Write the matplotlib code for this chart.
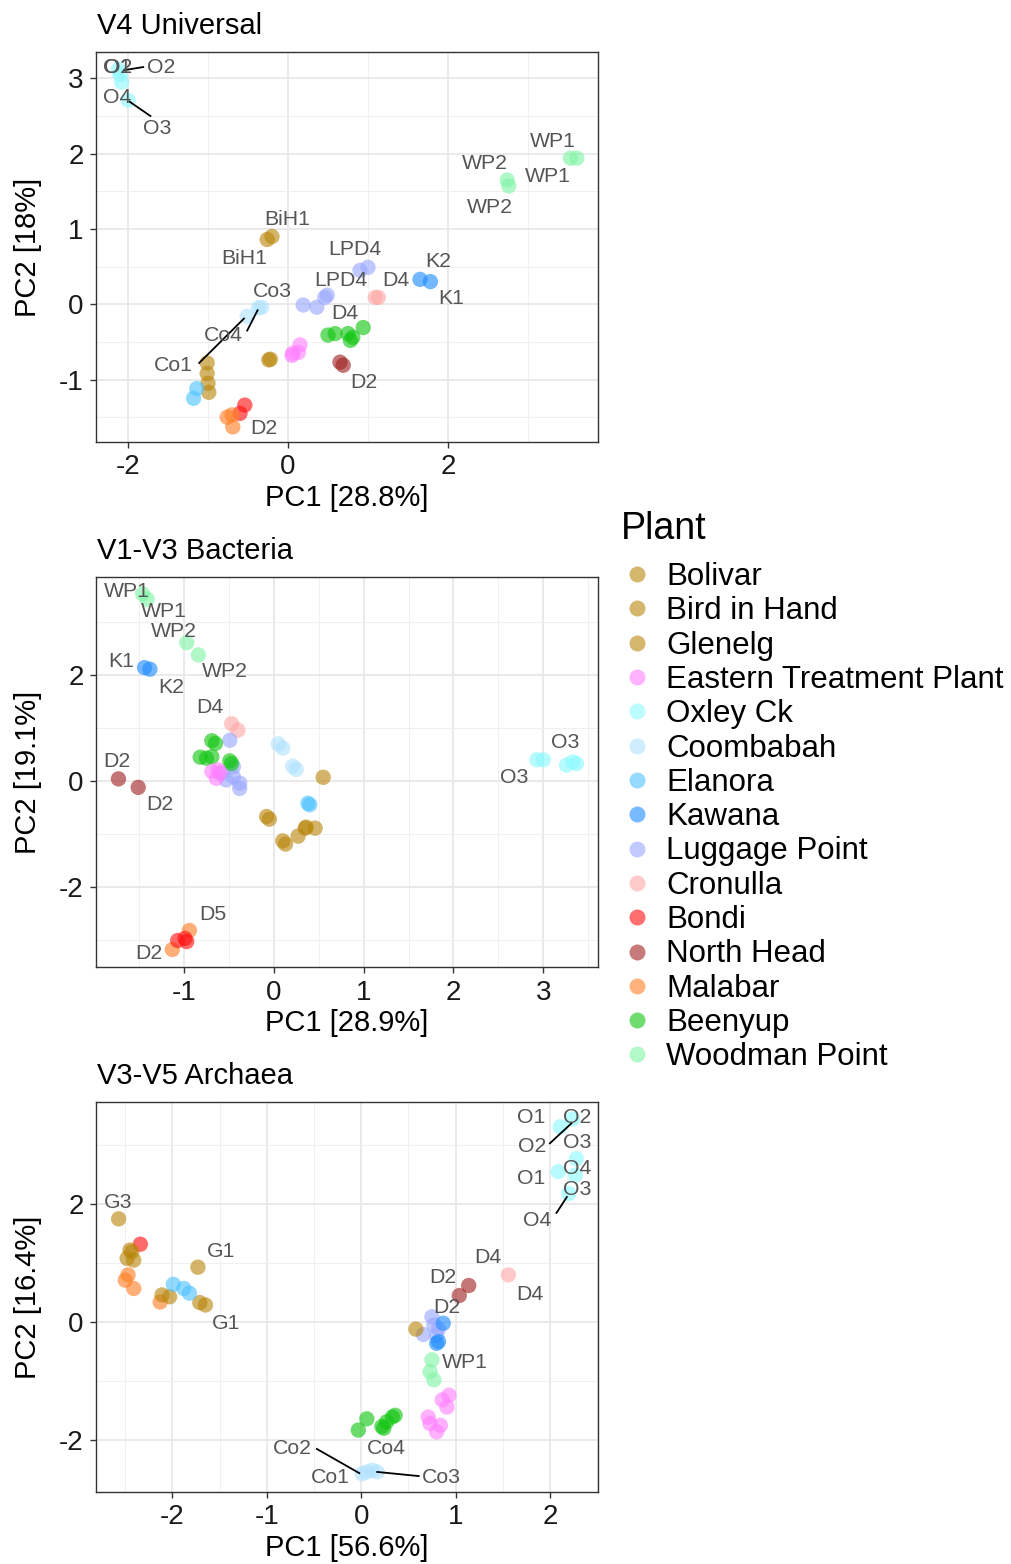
import matplotlib.pyplot as plt
from matplotlib.lines import Line2D

plt.rcParams['font.family'] = ['Liberation Sans', 'DejaVu Sans']
plt.rcParams['axes.unicode_minus'] = False

plants = ["Bolivar", "Bird in Hand", "Glenelg", "Eastern Treatment Plant", "Oxley Ck",
          "Coombabah", "Elanora", "Kawana", "Luggage Point", "Cronulla", "Bondi",
          "North Head", "Malabar", "Beenyup", "Woodman Point"]
plant_colors = ["#B8860B", "#B8860B", "#B8860B", "#FF80FF", "#8CFAFF",
                "#B0E2FF", "#4FC3FF", "#1E8CFF", "#9AA8FF", "#FFA8A8", "#FF1010",
                "#A02222", "#FF7F24", "#11C511", "#80F5A6"]

# V4 Universal
v4_plant = ["Oxley Ck"] * 4 + ["Woodman Point"] * 4 + ["Bird in Hand"] * 2 + ["Glenelg"] * 2 \
    + ["Bolivar"] * 4 + ["Elanora"] * 2 + ["Coombabah"] * 3 + ["Luggage Point"] * 6 \
    + ["Cronulla"] * 2 + ["Kawana"] * 2 + ["Beenyup"] * 6 + ["Eastern Treatment Plant"] * 4 \
    + ["North Head"] * 2 + ["Bondi"] * 2 + ["Malabar"] * 3
v4_pc1 = [-2.12, -2.10, -2.08, -2.00, 3.53, 3.61, 2.74, 2.76, -0.26, -0.20, -0.24, -0.22,
          -1.01, -1.01, -1.00, -0.99, -1.14, -1.18, -0.51, -0.33, -0.37,
          0.19, 0.36, 0.46, 0.49, 0.90, 1.00, 1.09, 1.13, 1.65, 1.78,
          0.50, 0.59, 0.75, 0.81, 0.78, 0.94, 0.06, 0.15, 0.13, 0.05,
          0.65, 0.69, -0.54, -0.60, -0.76, -0.70, -0.69]
v4_pc2 = [3.12, 3.05, 2.95, 2.71, 1.94, 1.94, 1.65, 1.57, 0.86, 0.90, -0.74, -0.73,
          -0.78, -0.92, -1.05, -1.17, -1.12, -1.25, -0.16, -0.04, -0.05,
          -0.01, -0.04, 0.09, 0.12, 0.45, 0.49, 0.09, 0.09, 0.33, 0.30,
          -0.41, -0.39, -0.39, -0.44, -0.48, -0.31, -0.65, -0.54, -0.64, -0.68,
          -0.77, -0.81, -1.34, -1.45, -1.50, -1.47, -1.63]
v4_lab = ["O1", "O2", "O2", "O4", "O3", "WP1", "WP1", "WP2", "WP2", "BiH1", "BiH1",
          "LPD4", "LPD4", "D4", "K2", "K1", "Co3", "Co4", "Co1", "D4", "D2", "D2"]
v4_lab_x = [-2.13, -2.12, -1.58, -2.13, -1.64, 3.31, 3.25, 2.46, 2.53, -0.01, -0.55,
            0.83, 0.66, 1.35, 1.88, 2.04, -0.20, -0.81, -1.43, 0.71, 0.95, -0.30]
v4_lab_y = [3.15, 3.15, 3.15, 2.74, 2.34, 2.16, 1.70, 1.87, 1.29, 1.13, 0.61,
            0.73, 0.32, 0.32, 0.57, 0.07, 0.17, -0.41, -0.81, -0.12, -1.04, -1.65]
v4_seg = [(-2.04, 3.11, -1.81, 3.15), (-1.98, 2.69, -1.72, 2.50),
          (-1.11, -0.78, -0.55, -0.19), (-0.51, -0.35, -0.38, -0.08)]

# V1-V3 Bacteria
v13_plant = ["Woodman Point"] * 4 + ["Kawana"] * 2 + ["Cronulla"] * 2 + ["Luggage Point"] * 7 \
    + ["Beenyup"] * 7 + ["Eastern Treatment Plant"] * 4 + ["Coombabah"] * 4 \
    + ["Bird in Hand"] + ["Bolivar"] * 4 + ["Glenelg"] * 4 + ["Elanora"] * 2 \
    + ["North Head"] * 2 + ["Oxley Ck"] * 5 + ["Malabar"] * 2 + ["Bondi"] * 3
v13_pc1 = [-1.46, -1.41, -0.97, -0.84, -1.44, -1.38, -0.47, -0.40,
           -0.49, -0.45, -0.53, -0.38, -0.38, -0.45, -0.58,
           -0.69, -0.65, -0.82, -0.75, -0.69, -0.49, -0.47,
           -0.69, -0.62, -0.64, -0.60, 0.05, 0.10, 0.21, 0.25,
           0.55, -0.08, -0.05, 0.10, 0.13, 0.27, 0.36, 0.46, 0.35,
           0.38, 0.40, -1.73, -1.51, 2.93, 3.00, 3.26, 3.33, 3.37,
           -0.94, -1.13, -1.07, -0.99, -0.97]
v13_pc2 = [3.53, 3.43, 2.61, 2.38, 2.14, 2.11, 1.08, 0.96,
           0.77, 0.27, 0.02, -0.04, -0.14, 0.08, 0.15,
           0.76, 0.71, 0.45, 0.43, 0.46, 0.38, 0.33,
           0.18, 0.21, 0.05, 0.15, 0.70, 0.62, 0.28, 0.22,
           0.07, -0.67, -0.72, -1.13, -1.19, -1.04, -0.87, -0.89, -0.89,
           -0.42, -0.45, 0.04, -0.12, 0.40, 0.40, 0.30, 0.36, 0.33,
           -2.82, -3.18, -3.01, -2.97, -3.03]
v13_lab = ["WP1", "WP1", "WP2", "WP2", "K1", "K2", "D4", "D2", "D2", "D5", "D2", "O3", "O3"]
v13_lab_x = [-1.64, -1.22, -1.11, -0.55, -1.70, -1.14, -0.71, -1.75, -1.27, -0.68, -1.39, 3.25, 2.68]
v13_lab_y = [3.57, 3.19, 2.83, 2.06, 2.26, 1.77, 1.38, 0.36, -0.45, -2.51, -3.25, 0.72, 0.06]
v13_seg = []

# V3-V5 Archaea
v35_plant = ["Oxley Ck"] * 6 + ["Glenelg"] + ["Bondi"] + ["Glenelg"] * 4 + ["Malabar"] * 4 \
    + ["Glenelg"] * 5 + ["Elanora"] * 3 + ["Cronulla"] + ["North Head"] * 2 \
    + ["Luggage Point"] * 5 + ["Kawana"] * 3 + ["Bolivar"] + ["Woodman Point"] * 3 \
    + ["Eastern Treatment Plant"] * 7 + ["Beenyup"] * 7 + ["Coombabah"] * 4
v35_pc1 = [2.11, 2.24, 2.09, 2.28, 2.27, 2.20, -2.57, -2.34, -2.45, -2.48, -2.41, -2.43,
           -2.47, -2.50, -2.41, -2.13, -2.11, -2.03, -1.73, -1.71, -1.65,
           -1.99, -1.88, -1.82, 1.56, 1.14, 1.04,
           0.75, 0.66, 0.82, 0.80, 0.77, 0.87, 0.82, 0.80, 0.58, 0.75, 0.73, 0.77,
           0.93, 0.86, 0.91, 0.71, 0.73, 0.84, 0.80,
           0.06, -0.03, 0.22, 0.27, 0.33, 0.36, 0.24, 0.01, 0.06, 0.12, 0.17]
v35_pc2 = [3.31, 3.44, 2.55, 2.77, 2.49, 2.18, 1.75, 1.32, 1.22, 1.08, 1.05, 1.19,
           0.80, 0.71, 0.57, 0.34, 0.46, 0.43, 0.93, 0.33, 0.29,
           0.64, 0.57, 0.49, 0.80, 0.62, 0.45,
           0.09, -0.21, -0.11, -0.22, -0.05, -0.02, -0.33, -0.36, -0.12, -0.64, -0.84, -0.98,
           -1.24, -1.32, -1.44, -1.61, -1.72, -1.75, -1.86,
           -1.64, -1.83, -1.77, -1.69, -1.61, -1.58, -1.80, -2.57, -2.54, -2.51, -2.54]
v35_lab = ["O1", "O2", "O2", "O3", "O1", "O4", "O3", "O4", "G3", "G1", "G1", "D4", "D4",
           "D2", "D2", "WP1", "Co2", "Co4", "Co1", "Co3"]
v35_lab_x = [1.80, 2.29, 1.81, 2.29, 1.80, 2.29, 2.29, 1.87, -2.58, -1.48, -1.43, 1.34, 1.79,
             0.87, 0.91, 1.10, -0.73, 0.27, -0.33, 0.85]
v35_lab_y = [3.47, 3.47, 2.97, 3.05, 2.44, 2.61, 2.25, 1.73, 2.03, 1.20, -0.03, 1.10, 0.46,
             0.76, 0.25, -0.69, -2.14, -2.14, -2.64, -2.64]
v35_seg = [(2.00, 3.03, 2.23, 3.37), (2.07, 1.85, 2.18, 2.12),
           (-0.47, -2.15, -0.02, -2.56), (0.17, -2.54, 0.61, -2.61)]

panels = [
    dict(title="V4 Universal", plant=v4_plant, x=v4_pc1, y=v4_pc2,
         lab=v4_lab, lx=v4_lab_x, ly=v4_lab_y, seg=v4_seg,
         xlab="PC1 [28.8%]", ylab="PC2 [18%]",
         xlim=(-2.4, 3.875), ylim=(-1.83, 3.35),
         xt=[-2, 0, 2], yt=[-1, 0, 1, 2, 3],
         xm=[-1, 1, 3], ym=[-1.5, -0.5, 0.5, 1.5, 2.5], top=52),
    dict(title="V1-V3 Bacteria", plant=v13_plant, x=v13_pc1, y=v13_pc2,
         lab=v13_lab, lx=v13_lab_x, ly=v13_lab_y, seg=v13_seg,
         xlab="PC1 [28.9%]", ylab="PC2 [19.1%]",
         xlim=(-1.98, 3.61), ylim=(-3.51, 3.85),
         xt=[-1, 0, 1, 2, 3], yt=[-2, 0, 2],
         xm=[-1.5, -0.5, 0.5, 1.5, 2.5, 3.5], ym=[-3, -1, 1, 3], top=577),
    dict(title="V3-V5 Archaea", plant=v35_plant, x=v35_pc1, y=v35_pc2,
         lab=v35_lab, lx=v35_lab_x, ly=v35_lab_y, seg=v35_seg,
         xlab="PC1 [56.6%]", ylab="PC2 [16.4%]",
         xlim=(-2.81, 2.51), ylim=(-2.88, 3.73),
         xt=[-2, -1, 0, 1, 2], yt=[-2, 0, 2],
         xm=[-2.5, -1.5, -0.5, 0.5, 1.5, 2.5], ym=[-1, 1, 3], top=1102),
]

W, H = 1011, 1564
fig = plt.figure(figsize=(W / 100, H / 100), dpi=100)
color_of = dict(zip(plants, plant_colors))

for p in panels:
    left, width, height = 96, 502, 390
    ax = fig.add_axes([left / W, 1 - (p["top"] + height) / H, width / W, height / H])
    cols = [color_of[k] for k in p["plant"]]
    ax.scatter(p["x"], p["y"], c=cols, s=122, alpha=0.62, linewidths=0, zorder=3)
    for x0, y0, x1, y1 in p["seg"]:
        ax.plot([x0, x1], [y0, y1], color="black", lw=1.3, zorder=4)
    for t, lx, ly in zip(p["lab"], p["lx"], p["ly"]):
        ax.text(lx, ly, t, fontsize=15.3, color="#555555", ha="center", va="center", zorder=5)

    ax.set_xlim(*p["xlim"])
    ax.set_ylim(*p["ylim"])
    ax.set_xticks(p["xt"])
    ax.set_yticks(p["yt"])
    ax.set_xticks(p["xm"], minor=True)
    ax.set_yticks(p["ym"], minor=True)
    ax.tick_params(which="major", labelsize=20, length=4, width=1, color="#333333",
                   labelcolor="#1A1A1A", pad=5)
    ax.tick_params(which="minor", length=0)
    ax.grid(which="major", color="#E8E8E8", lw=1.3, zorder=0)
    ax.grid(which="minor", color="#F0F0F0", lw=0.7, zorder=0)
    ax.set_axisbelow(True)
    for s in ax.spines.values():
        s.set_color("#333333")
        s.set_linewidth(1.0)

    fig.text(97 / W, 1 - (p["top"] - 26) / H, p["title"], fontsize=21, ha="left", va="center")
    fig.text((left + width / 2) / W, 1 - (p["top"] + height + 56) / H, p["xlab"],
             fontsize=21, ha="center", va="center")
    fig.text(28 / W, 1 - (p["top"] + height / 2) / H, p["ylab"], fontsize=21,
             rotation=90, ha="center", va="center")

# legend: title placed separately so the gap to the first key matches
fig.text(621 / W, 1 - 529 / H, "Plant", fontsize=27, ha="left", va="center")
handles = [Line2D([], [], marker="o", ls="", markersize=11.5, markeredgewidth=0,
                  color=c, alpha=0.6) for c in plant_colors]
leg = fig.legend(handles, plants, loc="upper left", bbox_to_anchor=(624 / W, 1 - 562 / H),
                 frameon=False, fontsize=22.5,
                 labelspacing=0.138, handlelength=0.8, handletextpad=0.56,
                 borderpad=0, borderaxespad=0)

fig.savefig("out.png", dpi=100)
